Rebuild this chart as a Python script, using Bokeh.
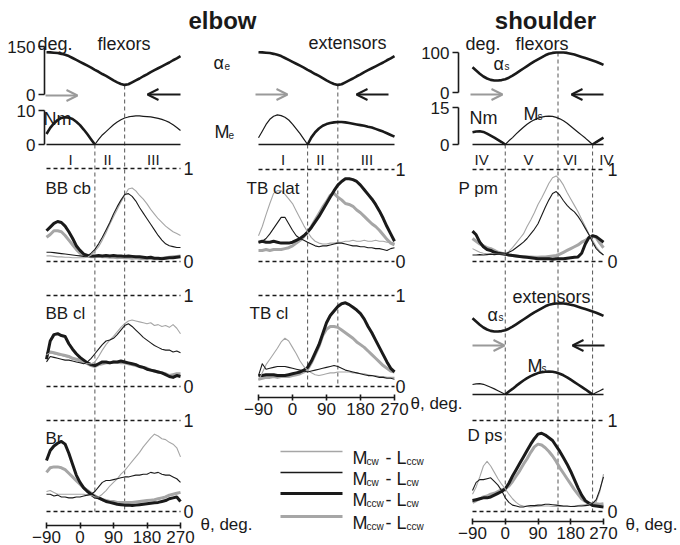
from bokeh.plotting import figure
from bokeh.models import Range1d, LinearAxis, FixedTicker, Arrow, OpenHead
from bokeh.embed import file_html
from bokeh.resources import INLINE
from bokeh.core.properties import value

# ---------------- data ----------------
THETA = list(range(-90, 271, 10))
THETA_TICKS = [-90, 0, 90, 180, 270]
ELBOW_VLINES = [40, 120]
SHOULDER_VLINES = [0, 145, 240]
ELBOW_REGIONS = ["I", "II", "III"]
ELBOW_REGION_THETA = [-25, 74, 197]
SHOULDER_REGIONS = ["IV", "V", "VI", "IV"]
SHOULDER_REGION_THETA = [-65, 64, 179, 278]
ALPHA_E_TICKS = [0, 150]
ME_TICKS = [0, 10]
ALPHA_S_TICKS = [0, 100]
MS_TICKS = [0, 15]
NORM_LEVELS = [0, 1]

ALPHA_E = [132, 131.5, 130.5, 129.5, 127, 124, 120, 114, 108, 102, 96, 90, 84, 77, 71, 64, 58, 51, 44,
           38, 33, 30, 32, 38, 44, 50, 57, 63, 70, 76, 82, 88, 94, 100, 107, 113, 120]
ME_FLEX_VIEW = [3.1, 4.9, 6.2, 7.2, 7.8, 8.0, 7.9, 7.5, 6.7, 5.7, 4.4, 3.0, 1.5, 0, 1.5, 2.8, 3.8, 4.8, 5.8,
                6.6, 7.3, 7.8, 8.1, 8.3, 8.4, 8.4, 8.3, 8.2, 8.1, 7.9, 7.7, 7.4, 7.0, 6.5, 5.8, 5.0, 4.1]
ME_EXT_VIEW = [2.0, 3.9, 5.9, 7.4, 8.3, 8.7, 8.5, 8.0, 7.2, 6.0, 4.6, 3.2, 1.6, 0, 2.1, 3.6, 4.7, 5.5, 6.0,
               6.3, 6.5, 6.6, 6.6, 6.5, 6.3, 6.1, 5.9, 5.7, 5.5, 5.2, 5.0, 4.6, 4.2, 3.8, 3.3, 2.8, 2.3]
ALPHA_S = [63, 55, 47, 40, 35, 31.5, 30, 30, 31, 33, 37, 42, 48, 54, 60, 66, 72, 78, 83, 88, 93, 97, 99,
           100, 100, 100, 99, 97, 95, 92, 89, 86, 83, 80, 77, 73, 69]
MS = [5.0, 5.3, 5.4, 5.1, 4.4, 3.6, 2.8, 1.9, 1.0, 0, 1.5, 2.8, 4.3, 5.7, 7.0, 8.2, 9.2, 10.0, 10.7, 11.1,
      11.4, 11.5, 11.4, 11.0, 10.4, 9.6, 8.6, 7.4, 6.2, 5.0, 3.8, 2.6, 1.3, 0, 1.0, 1.9, 2.8]

# EMG (normalised) -- M_cw-L_ccw, M_cw-L_cw, M_ccw-L_cw, M_ccw-L_ccw
BBCB_MCW_LCCW = [0.06, 0.06, 0.055, 0.05, 0.05, 0.045, 0.045, 0.04, 0.04, 0.04, 0.04, 0.045, 0.07, 0.11, 0.16, 0.23, 0.31, 0.40, 0.48,
                 0.56, 0.64, 0.71, 0.78, 0.79, 0.76, 0.71, 0.67, 0.62, 0.56, 0.51, 0.46, 0.42, 0.38, 0.35, 0.32, 0.30, 0.28]
BBCB_MCW_LCW = [0.10, 0.10, 0.095, 0.09, 0.085, 0.08, 0.075, 0.07, 0.065, 0.06, 0.055, 0.06, 0.09, 0.13, 0.19, 0.26, 0.34, 0.42, 0.51,
                0.59, 0.66, 0.72, 0.73, 0.70, 0.65, 0.58, 0.52, 0.46, 0.40, 0.34, 0.28, 0.23, 0.19, 0.17, 0.16, 0.15, 0.15]
BBCB_MCCW_LCW = [0.33, 0.37, 0.41, 0.43, 0.42, 0.38, 0.32, 0.25, 0.17, 0.12, 0.08, 0.065, 0.06, 0.06, 0.065, 0.06, 0.065, 0.06, 0.065,
                 0.06, 0.06, 0.055, 0.06, 0.055, 0.05, 0.05, 0.045, 0.04, 0.045, 0.035, 0.035, 0.03, 0.035, 0.04, 0.04, 0.045, 0.05]
BBCB_MCCW_LCCW = [0.26, 0.29, 0.33, 0.33, 0.32, 0.28, 0.23, 0.18, 0.13, 0.09, 0.07, 0.06, 0.05, 0.05, 0.055, 0.05, 0.05, 0.045, 0.045,
                  0.04, 0.045, 0.04, 0.04, 0.035, 0.04, 0.035, 0.03, 0.03, 0.035, 0.03, 0.03, 0.035, 0.04, 0.045, 0.05, 0.055, 0.06]

BBCL_MCW_LCCW = [0.35, 0.37, 0.36, 0.35, 0.34, 0.33, 0.32, 0.30, 0.29, 0.27, 0.26, 0.25, 0.25, 0.27, 0.33, 0.40, 0.46, 0.51, 0.55,
                 0.60, 0.65, 0.69, 0.72, 0.73, 0.72, 0.71, 0.70, 0.69, 0.70, 0.67, 0.68, 0.66, 0.67, 0.65, 0.68, 0.64, 0.58]
BBCL_MCW_LCW = [0.27, 0.33, 0.32, 0.31, 0.30, 0.29, 0.29, 0.28, 0.27, 0.26, 0.25, 0.27, 0.31, 0.36, 0.41, 0.46, 0.50, 0.51, 0.53,
                0.57, 0.62, 0.67, 0.69, 0.66, 0.62, 0.58, 0.54, 0.51, 0.48, 0.45, 0.43, 0.41, 0.40, 0.40, 0.38, 0.39, 0.37]
BBCL_MCCW_LCW = [0.30, 0.50, 0.57, 0.58, 0.56, 0.55, 0.47, 0.41, 0.36, 0.32, 0.29, 0.26, 0.24, 0.23, 0.25, 0.27, 0.27, 0.26, 0.27,
                 0.27, 0.28, 0.27, 0.26, 0.25, 0.24, 0.22, 0.21, 0.19, 0.18, 0.17, 0.16, 0.15, 0.13, 0.11, 0.10, 0.12, 0.11]
BBCL_MCCW_LCCW = [0.36, 0.38, 0.37, 0.36, 0.35, 0.34, 0.33, 0.31, 0.30, 0.29, 0.27, 0.25, 0.23, 0.22, 0.24, 0.25, 0.26, 0.26, 0.27,
                  0.265, 0.26, 0.26, 0.25, 0.24, 0.23, 0.22, 0.21, 0.20, 0.18, 0.17, 0.16, 0.15, 0.14, 0.12, 0.13, 0.14, 0.14]

BR_MCW_LCCW = [0.22, 0.23, 0.21, 0.19, 0.19, 0.19, 0.19, 0.19, 0.19, 0.19, 0.19, 0.18, 0.18, 0.16, 0.16, 0.19, 0.23, 0.28, 0.32,
               0.36, 0.41, 0.45, 0.50, 0.55, 0.60, 0.65, 0.71, 0.76, 0.81, 0.85, 0.83, 0.80, 0.79, 0.76, 0.74, 0.70, 0.60]
BR_MCW_LCW = [0.19, 0.19, 0.17, 0.18, 0.16, 0.16, 0.15, 0.15, 0.16, 0.16, 0.17, 0.18, 0.19, 0.22, 0.27, 0.32, 0.34, 0.34, 0.35,
              0.36, 0.37, 0.38, 0.38, 0.39, 0.40, 0.40, 0.41, 0.41, 0.43, 0.42, 0.43, 0.41, 0.40, 0.40, 0.38, 0.36, 0.32]
BR_MCCW_LCW = [0.56, 0.67, 0.72, 0.75, 0.77, 0.74, 0.64, 0.52, 0.40, 0.32, 0.26, 0.22, 0.19, 0.16, 0.15, 0.13, 0.11, 0.10, 0.09,
               0.08, 0.075, 0.07, 0.07, 0.065, 0.07, 0.075, 0.08, 0.085, 0.09, 0.095, 0.10, 0.11, 0.12, 0.14, 0.15, 0.16, 0.11]
BR_MCCW_LCCW = [0.43, 0.48, 0.49, 0.49, 0.48, 0.46, 0.42, 0.38, 0.34, 0.30, 0.26, 0.23, 0.20, 0.17, 0.15, 0.13, 0.12, 0.11, 0.11,
                0.10, 0.10, 0.10, 0.10, 0.10, 0.105, 0.11, 0.115, 0.12, 0.125, 0.13, 0.14, 0.15, 0.16, 0.18, 0.19, 0.20, 0.21]

TBCLAT_MCW_LCCW = [0.28, 0.38, 0.51, 0.63, 0.74, 0.77, 0.77, 0.73, 0.68, 0.63, 0.55, 0.47, 0.39, 0.32, 0.26, 0.22, 0.20, 0.19, 0.19,
                   0.20, 0.20, 0.21, 0.21, 0.22, 0.22, 0.23, 0.22, 0.22, 0.23, 0.22, 0.22, 0.23, 0.22, 0.22, 0.21, 0.21, 0.20]
TBCLAT_MCW_LCW = [0.21, 0.22, 0.25, 0.30, 0.36, 0.42, 0.48, 0.48, 0.41, 0.34, 0.28, 0.25, 0.23, 0.21, 0.19, 0.17, 0.16, 0.17, 0.17,
                  0.18, 0.19, 0.20, 0.20, 0.19, 0.18, 0.17, 0.17, 0.16, 0.16, 0.15, 0.15, 0.14, 0.14, 0.13, 0.12, 0.14, 0.15]
TBCLAT_MCCW_LCW = [0.21, 0.22, 0.21, 0.21, 0.22, 0.21, 0.20, 0.20, 0.20, 0.21, 0.23, 0.25, 0.28, 0.32, 0.37, 0.43, 0.49, 0.56, 0.63,
                   0.70, 0.77, 0.83, 0.87, 0.90, 0.90, 0.89, 0.87, 0.83, 0.78, 0.73, 0.68, 0.62, 0.55, 0.47, 0.38, 0.30, 0.22]
TBCLAT_MCCW_LCCW = [0.12, 0.12, 0.13, 0.12, 0.13, 0.13, 0.13, 0.14, 0.15, 0.17, 0.20, 0.23, 0.27, 0.32, 0.38, 0.45, 0.52, 0.59, 0.65,
                    0.72, 0.74, 0.70, 0.67, 0.63, 0.62, 0.60, 0.56, 0.53, 0.49, 0.45, 0.41, 0.38, 0.34, 0.29, 0.24, 0.20, 0.18]

TBCL_MCW_LCCW = [0.07, 0.15, 0.24, 0.30, 0.36, 0.42, 0.49, 0.53, 0.50, 0.43, 0.36, 0.28, 0.22, 0.18, 0.15, 0.13, 0.12, 0.13, 0.14,
                 0.15, 0.15, 0.16, 0.16, 0.16, 0.16, 0.15, 0.15, 0.14, 0.14, 0.13, 0.12, 0.12, 0.11, 0.11, 0.10, 0.10, 0.10]
TBCL_MCW_LCW = [0.12, 0.25, 0.19, 0.20, 0.21, 0.22, 0.22, 0.22, 0.21, 0.20, 0.19, 0.18, 0.17, 0.16, 0.17, 0.18, 0.19, 0.20, 0.21,
                0.22, 0.23, 0.22, 0.20, 0.18, 0.17, 0.16, 0.15, 0.14, 0.13, 0.12, 0.12, 0.11, 0.10, 0.10, 0.09, 0.09, 0.08]
TBCL_MCCW_LCW = [0.12, 0.12, 0.13, 0.13, 0.13, 0.12, 0.12, 0.12, 0.13, 0.14, 0.15, 0.16, 0.18, 0.21, 0.28, 0.37, 0.46, 0.58, 0.70,
                 0.78, 0.83, 0.88, 0.91, 0.92, 0.90, 0.87, 0.84, 0.80, 0.74, 0.66, 0.59, 0.51, 0.43, 0.35, 0.27, 0.20, 0.16]
TBCL_MCCW_LCCW = [0.08, 0.09, 0.10, 0.10, 0.11, 0.10, 0.11, 0.11, 0.11, 0.12, 0.13, 0.14, 0.16, 0.19, 0.26, 0.35, 0.44, 0.56, 0.63,
                  0.66, 0.66, 0.65, 0.62, 0.59, 0.56, 0.53, 0.49, 0.46, 0.43, 0.39, 0.35, 0.31, 0.27, 0.23, 0.20, 0.17, 0.16]

PPM_MCW_LCCW = [0.14, 0.12, 0.10, 0.09, 0.085, 0.08, 0.08, 0.08, 0.08, 0.08, 0.11, 0.15, 0.20, 0.25, 0.30, 0.38, 0.45, 0.53, 0.62,
                0.69, 0.77, 0.85, 0.91, 0.93, 0.89, 0.83, 0.75, 0.68, 0.61, 0.54, 0.46, 0.38, 0.30, 0.23, 0.16, 0.11, 0.07]
PPM_MCW_LCW = [0.07, 0.07, 0.075, 0.07, 0.075, 0.08, 0.075, 0.08, 0.08, 0.085, 0.10, 0.12, 0.15, 0.18, 0.21, 0.25, 0.30, 0.35, 0.41,
               0.50, 0.59, 0.67, 0.74, 0.76, 0.72, 0.66, 0.61, 0.57, 0.54, 0.49, 0.43, 0.36, 0.29, 0.21, 0.14, 0.10, 0.07]
PPM_MCCW_LCW = [0.33, 0.29, 0.21, 0.16, 0.13, 0.12, 0.10, 0.09, 0.085, 0.08, 0.07, 0.065, 0.06, 0.055, 0.05, 0.045, 0.04, 0.035, 0.03,
                0.03, 0.03, 0.03, 0.025, 0.03, 0.03, 0.03, 0.035, 0.04, 0.045, 0.05, 0.09, 0.19, 0.26, 0.28, 0.27, 0.24, 0.21]
PPM_MCCW_LCCW = [0.25, 0.22, 0.19, 0.17, 0.15, 0.14, 0.12, 0.10, 0.09, 0.08, 0.07, 0.065, 0.06, 0.055, 0.055, 0.05, 0.05, 0.045, 0.045,
                 0.05, 0.05, 0.055, 0.06, 0.065, 0.08, 0.10, 0.12, 0.14, 0.16, 0.18, 0.21, 0.23, 0.26, 0.28, 0.26, 0.20, 0.15]

DPS_MCW_LCCW = [0.19, 0.27, 0.38, 0.50, 0.55, 0.50, 0.43, 0.36, 0.30, 0.25, 0.19, 0.14, 0.10, 0.07, 0.06, 0.055, 0.05, 0.055, 0.055,
                0.06, 0.06, 0.06, 0.055, 0.055, 0.06, 0.055, 0.055, 0.055, 0.06, 0.065, 0.07, 0.075, 0.08, 0.09, 0.11, 0.22, 0.41]
DPS_MCW_LCW = [0.23, 0.32, 0.35, 0.35, 0.36, 0.37, 0.33, 0.29, 0.23, 0.15, 0.10, 0.07, 0.06, 0.05, 0.05, 0.06, 0.065, 0.065, 0.07,
               0.07, 0.08, 0.08, 0.075, 0.07, 0.065, 0.06, 0.06, 0.055, 0.055, 0.06, 0.06, 0.065, 0.07, 0.09, 0.13, 0.24, 0.38]
DPS_MCCW_LCW = [0.12, 0.13, 0.14, 0.15, 0.15, 0.16, 0.18, 0.20, 0.22, 0.25, 0.31, 0.39, 0.46, 0.53, 0.60, 0.67, 0.74, 0.80, 0.85,
                0.86, 0.84, 0.81, 0.78, 0.72, 0.66, 0.59, 0.52, 0.44, 0.35, 0.26, 0.18, 0.12, 0.09, 0.065, 0.06, 0.055, 0.05]
DPS_MCCW_LCCW = [0.10, 0.12, 0.14, 0.16, 0.17, 0.19, 0.20, 0.22, 0.24, 0.25, 0.28, 0.33, 0.39, 0.45, 0.52, 0.58, 0.65, 0.71, 0.74,
                 0.73, 0.70, 0.66, 0.61, 0.55, 0.48, 0.42, 0.36, 0.30, 0.24, 0.19, 0.14, 0.11, 0.09, 0.085, 0.085, 0.08, 0.085]

LEGEND_SUBS = [("cw", "ccw"), ("cw", "cw"), ("ccw", "cw"), ("ccw", "ccw")]

# ---------------- layout helpers ----------------
# Bokeh's page template has no body margin, so the canvas can fill the window.
W, H = 680, 545
SX, SY = W / 680.0, H / 545.0
FONT = "Liberation Sans"
INK = "#1a1a1a"
GRAY = "#a6a6a6"
ARROW_GRAY = "#9a9a9a"


def fx(X):
    return X * SX


def fy(Y):
    return H - Y * SY


def lin_range(v0, v1, a, b, total):
    k = (v1 - v0) / (b - a)
    s = v0 - a * k
    return Range1d(start=s, end=s + total * k)


XR = {
    "xL": lin_range(-90, 270, fx(46), fx(180), W),
    "xM": lin_range(-90, 270, fx(258), fx(394), W),
    "xR": lin_range(-90, 270, fx(472), fx(603), W),
}
YR = {
    "yAe": lin_range(0, 150, fy(94), fy(46), H),
    "yMe": lin_range(0, 10, fy(144), fy(110), H),
    "yAs": lin_range(0, 100, fy(92), fy(52), H),
    "yMs": lin_range(0, 15, fy(144), fy(107), H),
    "yAs2": lin_range(0, 100, fy(343), fy(303), H),
    "yMs2": lin_range(0, 15, fy(394), fy(364), H),
    "yBBcb": lin_range(0, 1, fy(261), fy(168), H),
    "yBBcl": lin_range(0, 1, fy(386), fy(295), H),
    "yBr": lin_range(0, 1, fy(511), fy(420), H),
    "yTBclat": lin_range(0, 1, fy(261), fy(169), H),
    "yTBcl": lin_range(0, 1, fy(386), fy(295), H),
    "yPpm": lin_range(0, 1, fy(261), fy(169), H),
    "yDps": lin_range(0, 1, fy(511), fy(420), H),
}

p = figure(width=W, height=H, x_range=Range1d(0, W), y_range=Range1d(0, H),
           output_backend="svg", toolbar_location=None, min_border=0,
           x_axis_location=None, y_axis_location=None, outline_line_color=None,
           background_fill_color="white", border_fill_color="white")
p.grid.visible = False
p.extra_x_ranges = XR
p.extra_y_ranges = YR


def txt(X, Y, s, size=17, align="left", baseline="alphabetic", bold=False, color=INK, xname=None, xval=None):
    kw = dict(text=[s], text_font=value(FONT), text_font_size=f"{size}px",
              text_align=align, text_baseline=baseline, text_color=color)
    if bold:
        kw["text_font_style"] = "bold"
    if xname is not None:
        p.text(x=[xval], y=[fy(Y)], x_range_name=xname, **kw)
    else:
        p.text(x=[fx(X)], y=[fy(Y)], **kw)


def line(xs, ys, xn, yn, color, width, dash="solid"):
    p.line(xs, ys, x_range_name=xn, y_range_name=yn, line_color=color,
           line_width=width, line_join="round", line_dash=dash)


def theta_axis(xn, Y):
    ax = LinearAxis(x_range_name=xn, fixed_location=fy(Y), bounds=(THETA[0], THETA[-1]),
                    ticker=FixedTicker(ticks=THETA_TICKS))
    ax.axis_line_width = 1.6
    ax.axis_line_color = INK
    ax.major_tick_line_color = INK
    ax.major_tick_line_width = 1.6
    ax.major_tick_in = 3
    ax.major_tick_out = 3
    ax.minor_tick_line_color = None
    ax.major_label_text_font = FONT
    ax.major_label_text_font_size = "17px"
    ax.major_label_text_color = INK
    ax.major_label_standoff = 2
    p.add_layout(ax, "below")


def value_axis(yn, X, ticks):
    ax = LinearAxis(y_range_name=yn, fixed_location=fx(X), bounds=(ticks[0], ticks[-1]),
                    ticker=FixedTicker(ticks=ticks))
    ax.axis_line_width = 1.6
    ax.axis_line_color = INK
    ax.major_tick_line_color = INK
    ax.major_tick_line_width = 1.6
    ax.major_tick_in = 0
    ax.major_tick_out = 6
    ax.minor_tick_line_color = None
    ax.major_label_text_font = FONT
    ax.major_label_text_font_size = "17px"
    ax.major_label_text_color = INK
    ax.major_label_standoff = 3
    ax.major_label_orientation = "horizontal"
    p.add_layout(ax, "left")


def split_draw(xn, yn, ys, cuts, thick_first):
    idx = [0] + [THETA.index(c) for c in cuts] + [len(THETA) - 1]
    thick = thick_first
    for a, b in zip(idx[:-1], idx[1:]):
        line(THETA[a:b + 1], ys[a:b + 1], xn, yn, INK, 2.6 if thick else 1.2)
        thick = not thick


def baseline(xn, yn):
    p.segment(x0=[THETA[0]], x1=[THETA[-1]], y0=[0], y1=[0], x_range_name=xn, y_range_name=yn,
              line_color=INK, line_width=1.5)


def vlines(xn, thetas, tops, bottom):
    for t, top in zip(thetas, tops):
        p.segment(x0=[t], x1=[t], y0=[fy(top)], y1=[fy(bottom)], x_range_name=xn,
                  line_color="#555555", line_width=1, line_dash="4 3")


def arrow(X0, X1, Y, color):
    p.add_layout(Arrow(end=OpenHead(size=11, line_color=color, line_width=2),
                       x_start=fx(X0), y_start=fy(Y), x_end=fx(X1), y_end=fy(Y),
                       line_color=color, line_width=2))


def sub_label(X, Y, main, sub, size=18):
    txt(X, Y, main, size=size)
    txt(X + (11 if main == "\u03b1" else 14), Y + 3, sub, size=10)


# ---------------- vertical guide lines ----------------
vlines("xL", ELBOW_VLINES, [144, 85], 511)
vlines("xM", ELBOW_VLINES, [144, 85], 386)
vlines("xR", SHOULDER_VLINES, [144, 52, 144], 511)

# ---------------- joint angle / torque panels ----------------
for xn in ("xL", "xM"):
    line(THETA, ALPHA_E, xn, "yAe", INK, 2.6)
    baseline(xn, "yMe")
split_draw("xL", "yMe", ME_FLEX_VIEW, [ELBOW_VLINES[0]], True)
split_draw("xM", "yMe", ME_EXT_VIEW, [ELBOW_VLINES[0]], False)

line(THETA, ALPHA_S, "xR", "yAs", INK, 2.6)
baseline("xR", "yMs")
split_draw("xR", "yMs", MS, [SHOULDER_VLINES[0], SHOULDER_VLINES[2]], True)
line(THETA, ALPHA_S, "xR", "yAs2", INK, 2.6)
baseline("xR", "yMs2")
split_draw("xR", "yMs2", MS, [SHOULDER_VLINES[0], SHOULDER_VLINES[2]], False)

value_axis("yAe", 44, ALPHA_E_TICKS)
value_axis("yMe", 44, ME_TICKS)
value_axis("yAs", 458, ALPHA_S_TICKS)
value_axis("yMs", 458, MS_TICKS)

arrow(45, 77, 95, ARROW_GRAY)
arrow(180, 147, 94, INK)
arrow(255, 287, 94, ARROW_GRAY)
arrow(388, 356, 94, INK)
arrow(470, 502, 94, ARROW_GRAY)
arrow(603, 571, 94, INK)
arrow(472, 504, 345, ARROW_GRAY)
arrow(604, 572, 345, INK)

for lab, t in zip(ELBOW_REGIONS, ELBOW_REGION_THETA):
    txt(0, 159, lab, size=15, align="center", xname="xL", xval=t)
    txt(0, 159, lab, size=15, align="center", xname="xM", xval=t)
for lab, t in zip(SHOULDER_REGIONS, SHOULDER_REGION_THETA):
    txt(0, 159, lab, size=15, align="center", xname="xR", xval=t)

# ---------------- EMG panels ----------------
PANELS = [
    ("BB cb", "xL", "yBBcb", 45, 188, 183, (BBCB_MCW_LCCW, BBCB_MCW_LCW, BBCB_MCCW_LCW, BBCB_MCCW_LCCW)),
    ("BB cl", "xL", "yBBcl", 45, 313, 183, (BBCL_MCW_LCCW, BBCL_MCW_LCW, BBCL_MCCW_LCW, BBCL_MCCW_LCCW)),
    ("Br", "xL", "yBr", 45, 438, 183, (BR_MCW_LCCW, BR_MCW_LCW, BR_MCCW_LCW, BR_MCCW_LCCW)),
    ("TB clat", "xM", "yTBclat", 246, 188, 395, (TBCLAT_MCW_LCCW, TBCLAT_MCW_LCW, TBCLAT_MCCW_LCW, TBCLAT_MCCW_LCCW)),
    ("TB cl", "xM", "yTBcl", 249, 313, 395, (TBCL_MCW_LCCW, TBCL_MCW_LCW, TBCL_MCCW_LCW, TBCL_MCCW_LCCW)),
    ("P pm", "xR", "yPpm", 458, 188, 607, (PPM_MCW_LCCW, PPM_MCW_LCW, PPM_MCCW_LCW, PPM_MCCW_LCCW)),
    ("D ps", "xR", "yDps", 467, 435, 607, (DPS_MCW_LCCW, DPS_MCW_LCW, DPS_MCCW_LCW, DPS_MCCW_LCCW)),
]
for name, xn, yn, lx, ly, numx, (s_thin_g, s_thin_k, s_thick_k, s_thick_g) in PANELS:
    for lvl in NORM_LEVELS:
        p.segment(x0=[THETA[0]], x1=[THETA[-1]], y0=[lvl], y1=[lvl], x_range_name=xn, y_range_name=yn,
                  line_color=INK, line_width=1.5, line_dash="4 3")
        p.text(x=[fx(numx)], y=[lvl], text=[str(lvl)], x_range_name="default", y_range_name=yn,
               text_font=value(FONT), text_font_size="18px", text_baseline="middle", text_color=INK)
    line(THETA, s_thick_g, xn, yn, GRAY, 3.0)
    line(THETA, s_thick_k, xn, yn, INK, 3.0)
    line(THETA, s_thin_g, xn, yn, GRAY, 1.1)
    line(THETA, s_thin_k, xn, yn, INK, 1.1)
    txt(lx, ly, name, size=17)

theta_axis("xL", 525)
theta_axis("xM", 397)
theta_axis("xR", 521)

# ---------------- texts ----------------
txt(222, 20, "elbow", size=24, align="center", bold=True)
txt(545, 20, "shoulder", size=24, align="center", bold=True)
txt(37, 43, "deg.", size=18)
txt(97, 43, "flexors", size=18)
txt(308, 42, "extensors", size=18)
txt(465, 43, "deg.", size=18)
txt(515, 43, "flexors", size=18)
txt(512, 296, "extensors", size=18)
txt(43, 118, "Nm", size=18)
txt(469, 117, "Nm", size=18)
sub_label(213, 62, "\u03b1", "e")
sub_label(214, 131, "M", "e")
sub_label(493, 63, "\u03b1", "s")
sub_label(523, 113, "M", "s")
sub_label(487, 314, "\u03b1", "s")
sub_label(527, 365, "M", "s")
txt(200, 524, "\u03b8, deg.", size=17)
txt(410, 403, "\u03b8, deg.", size=17)
txt(625, 524, "\u03b8, deg.", size=17)

# ---------------- legend ----------------
LEG_ROWS = [451, 472, 493, 516]
LEG_STYLE = [(GRAY, 1.3), (INK, 1.3), (INK, 3.0), (GRAY, 3.0)]
for Y, (c, w), (s1, s2) in zip(LEG_ROWS, LEG_STYLE, LEGEND_SUBS):
    p.segment(x0=[fx(280)], x1=[fx(342)], y0=[fy(Y)], y1=[fy(Y)], line_color=c, line_width=w)
    txt(352, Y + 6, "M", size=18)
    txt(366, Y + 10, s1, size=10)
    txt(385, Y + 6, "- L", size=18)
    txt(406, Y + 10, s2, size=10)

open("out.html", "w").write(file_html(p, INLINE))
